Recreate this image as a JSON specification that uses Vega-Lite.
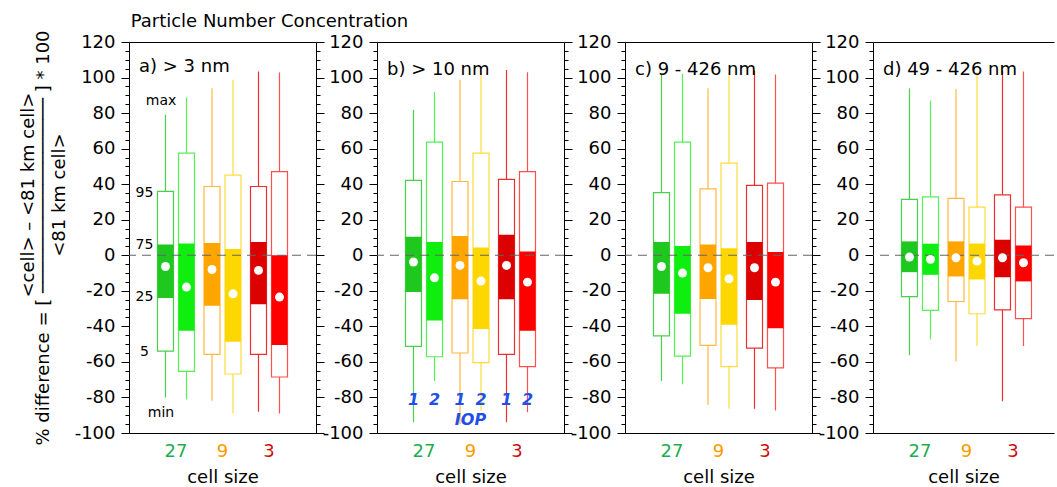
{
  "$schema": "https://vega.github.io/schema/vega-lite/v6.json",
  "padding": {"left": 18, "top": 13, "right": 0, "bottom": 0},
  "bounds": "flush",
  "spacing": 61,
  "title": {"text": "Particle Number Concentration", "anchor": "start", "frame": "bounds", "dx": 112, "offset": -2, "fontSize": 18, "fontWeight": "normal", "font": "DejaVu Sans", "color": "#000"},
  "config": {
    "font": "DejaVu Sans",
    "view": {"stroke": "#000", "strokeWidth": 1},
    "axis": {"labelFont": "DejaVu Sans", "titleFont": "DejaVu Sans", "labelFontSize": 18, "titleFontSize": 18, "titleFontWeight": "normal", "domainColor": "#000", "tickColor": "#000", "labelColor": "#000", "titleColor": "#000", "grid": false, "tickWidth": 1, "domainWidth": 1},
    "title": {"font": "DejaVu Sans", "fontSize": 18, "fontWeight": "normal", "color": "#000"},
    "text": {"font": "DejaVu Sans"}
  },
  "datasets": {
    "a": [
      {"cell": "27", "iop": "1", "s": "27-1", "min": -80, "p5": -53.9, "p25": -24, "p75": 6, "p95": 35.9, "max": 79, "mean": -6.3},
      {"cell": "27", "iop": "2", "s": "27-2", "min": -81, "p5": -65.3, "p25": -42.5, "p75": 6.6, "p95": 57.5, "max": 88.8, "mean": -17.9},
      {"cell": "9", "iop": "1", "s": "9-1", "min": -81.8, "p5": -55.8, "p25": -28.4, "p75": 6.9, "p95": 38.7, "max": 94, "mean": -8},
      {"cell": "9", "iop": "2", "s": "9-2", "min": -89, "p5": -66.8, "p25": -48.6, "p75": 3.5, "p95": 45.1, "max": 98.7, "mean": -21.7},
      {"cell": "3", "iop": "1", "s": "3-1", "min": -88, "p5": -55.8, "p25": -27.5, "p75": 7.4, "p95": 38.7, "max": 103.4, "mean": -8.5},
      {"cell": "3", "iop": "2", "s": "3-2", "min": -89, "p5": -68.5, "p25": -50.5, "p75": 0, "p95": 47.1, "max": 102.8, "mean": -23.5}
    ],
    "b": [
      {"cell": "27", "iop": "1", "s": "27-1", "min": -94, "p5": -51.3, "p25": -20.7, "p75": 10.4, "p95": 42.1, "max": 81.8, "mean": -3.8},
      {"cell": "27", "iop": "2", "s": "27-2", "min": -70.8, "p5": -57.1, "p25": -36.7, "p75": 7.4, "p95": 63.7, "max": 91.8, "mean": -12.7},
      {"cell": "9", "iop": "1", "s": "9-1", "min": -95, "p5": -55, "p25": -24.8, "p75": 10.8, "p95": 41.5, "max": 98.7, "mean": -5.7},
      {"cell": "9", "iop": "2", "s": "9-2", "min": -87.3, "p5": -60.4, "p25": -41.5, "p75": 4.4, "p95": 57.5, "max": 102.6, "mean": -14.5},
      {"cell": "3", "iop": "1", "s": "3-1", "min": -94, "p5": -55.8, "p25": -24.8, "p75": 11.5, "p95": 42.7, "max": 104.3, "mean": -5.7},
      {"cell": "3", "iop": "2", "s": "3-2", "min": -88.3, "p5": -62.7, "p25": -42.5, "p75": 2.1, "p95": 47.1, "max": 103, "mean": -15.1}
    ],
    "c": [
      {"cell": "27", "iop": "1", "s": "27-1", "min": -70.8, "p5": -45.3, "p25": -21.7, "p75": 7.4, "p95": 35.2, "max": 101.5, "mean": -6.3},
      {"cell": "27", "iop": "2", "s": "27-2", "min": -72.5, "p5": -56.7, "p25": -32.9, "p75": 5.2, "p95": 63.7, "max": 102, "mean": -10},
      {"cell": "9", "iop": "1", "s": "9-1", "min": -84.3, "p5": -50.7, "p25": -24.6, "p75": 6.1, "p95": 37.4, "max": 94, "mean": -7},
      {"cell": "9", "iop": "2", "s": "9-2", "min": -86.3, "p5": -62.7, "p25": -39.1, "p75": 4, "p95": 51.9, "max": 103, "mean": -13.2},
      {"cell": "3", "iop": "1", "s": "3-1", "min": -86.3, "p5": -52.2, "p25": -25.2, "p75": 7.4, "p95": 39.3, "max": 104, "mean": -7},
      {"cell": "3", "iop": "2", "s": "3-2", "min": -87.3, "p5": -63.4, "p25": -41, "p75": 1.8, "p95": 40.6, "max": 101.7, "mean": -15.1}
    ],
    "d": [
      {"cell": "27", "iop": "1", "s": "27-1", "min": -56.3, "p5": -23.3, "p25": -9.5, "p75": 7.8, "p95": 31.4, "max": 94, "mean": -1},
      {"cell": "27", "iop": "2", "s": "27-2", "min": -47.3, "p5": -31, "p25": -11, "p75": 6.5, "p95": 32.9, "max": 87, "mean": -2.3},
      {"cell": "9", "iop": "1", "s": "9-1", "min": -59.7, "p5": -26, "p25": -11.9, "p75": 7.8, "p95": 32, "max": 93.6, "mean": -1.4},
      {"cell": "9", "iop": "2", "s": "9-2", "min": -51.1, "p5": -32.9, "p25": -13.6, "p75": 6.6, "p95": 27.1, "max": 103, "mean": -3.3},
      {"cell": "3", "iop": "1", "s": "3-1", "min": -82.2, "p5": -30.7, "p25": -12.3, "p75": 8.7, "p95": 34, "max": 104, "mean": -1.4},
      {"cell": "3", "iop": "2", "s": "3-2", "min": -51.1, "p5": -35.7, "p25": -14.7, "p75": 5.5, "p95": 27.1, "max": 103.4, "mean": -4.2}
    ],
    "annot": [
      {"panel": "a", "kind": "num", "label": "95", "cell": "27", "iop": "1", "v": 35},
      {"panel": "a", "kind": "num", "label": "75", "cell": "27", "iop": "1", "v": 5.5},
      {"panel": "a", "kind": "num", "label": "25", "cell": "27", "iop": "1", "v": -23.5},
      {"panel": "a", "kind": "num", "label": "5", "cell": "27", "iop": "1", "v": -54.5},
      {"panel": "a", "kind": "ext", "label": "max", "cell": "27", "iop": "1", "v": 87},
      {"panel": "a", "kind": "ext", "label": "min", "cell": "27", "iop": "1", "v": -88.5},
      {"panel": "b", "kind": "iop", "label": "1", "cell": "27", "iop": "1", "v": -81.3},
      {"panel": "b", "kind": "iop", "label": "2", "cell": "27", "iop": "2", "v": -81.3},
      {"panel": "b", "kind": "iop", "label": "1", "cell": "9", "iop": "1", "v": -81.3},
      {"panel": "b", "kind": "iop", "label": "2", "cell": "9", "iop": "2", "v": -81.3},
      {"panel": "b", "kind": "iop", "label": "1", "cell": "3", "iop": "1", "v": -81.3},
      {"panel": "b", "kind": "iop", "label": "2", "cell": "3", "iop": "2", "v": -81.3},
      {"panel": "b", "kind": "ioptitle", "label": "IOP", "cell": "9", "iop": "1", "v": -92.5}
    ]
  },
  "hconcat": [
    {
      "width": 187, "height": 391,
      "title": {"text": "a) > 3 nm", "anchor": "start", "frame": "group", "offset": -46, "dx": 10},
      "data": {"name": "a"},
      "resolve": {"axis": {"x": "independent", "y": "independent"}},
      "layer": [
        {"mark": {"type": "rule", "strokeWidth": 1.2},
         "encoding": {
           "x": {"field": "cell", "type": "nominal", "sort": ["27", "9", "3"], "scale": {"type": "band", "paddingInner": 0, "paddingOuter": 0.5108, "align": 0.5}, "axis": null},
           "xOffset": {"field": "iop", "type": "nominal", "sort": ["1", "2"], "scale": {"type": "band", "paddingInner": 0.238, "paddingOuter": 0.226}},
           "y": {"field": "min", "type": "quantitative", "scale": {"domain": [-100, 120], "nice": false, "zero": false},
                 "axis": {"orient": "right", "values": [-100,-95,-90,-85,-80,-75,-70,-65,-60,-55,-50,-45,-40,-35,-30,-25,-20,-15,-10,-5,0,5,10,15,20,25,30,35,40,45,50,55,60,65,70,75,80,85,90,95,100,105,110,115,120], "tickSize": {"condition": {"test": "datum.value % 20 === 0", "value": 8}, "value": 4}, "labels": false, "title": null}},
           "y2": {"field": "max"},
           "stroke": {"field": "s", "type": "nominal", "scale": {"domain": ["27-1", "27-2", "9-1", "9-2", "3-1", "3-2"], "range": ["#4ad04a", "#55f055", "#ffb840", "#ffdb40", "#e83030", "#ff5050"]}, "legend": null}
         }},
        {"mark": {"type": "bar", "fill": "#ffffff", "strokeWidth": 1.2},
         "encoding": {
           "x": {"field": "cell", "type": "nominal", "sort": ["27", "9", "3"], "axis": {"title": "cell size", "ticks": false, "labelAngle": 0, "labelPadding": 9, "titlePadding": 8, "labelColor": {"condition": [{"test": "datum.value === '27'", "value": "#1fae4f"}, {"test": "datum.value === '9'", "value": "#ff9a00"}], "value": "#d01010"}}},
           "xOffset": {"field": "iop", "type": "nominal", "sort": ["1", "2"]},
           "y": {"field": "p5", "type": "quantitative",
                 "axis": {"orient": "left", "values": [-100,-95,-90,-85,-80,-75,-70,-65,-60,-55,-50,-45,-40,-35,-30,-25,-20,-15,-10,-5,0,5,10,15,20,25,30,35,40,45,50,55,60,65,70,75,80,85,90,95,100,105,110,115,120], "tickSize": {"condition": {"test": "datum.value % 20 === 0", "value": 8}, "value": 4}, "labelExpr": "datum.value % 20 === 0 ? '' + datum.value : ''", "labelPadding": 6, "labelOverlap": false, "labelFlush": false,
                          "title": ["\u200b\u00a0\u00a0\u00a0\u00a0\u00a0\u00a0\u00a0\u00a0\u00a0\u00a0\u00a0\u00a0\u00a0\u00a0\u00a0<cell> \u2013 <81 km cell>", "% difference = [ \u2500\u2500\u2500\u2500\u2500\u2500\u2500\u2500\u2500\u2500\u2500\u2500\u2500\u2500\u2500\u2500\u2500\u2500 ] * 100", "\u200b\u00a0\u00a0\u00a0\u00a0\u00a0\u00a0\u00a0\u00a0\u00a0\u00a0\u00a0\u00a0\u00a0\u00a0\u00a0<81 km cell>"], "titlePadding": 6, "titleLineHeight": 15.5}},
           "y2": {"field": "p95"},
           "stroke": {"field": "s", "type": "nominal", "legend": null}
         }},
        {"mark": {"type": "bar"},
         "encoding": {
           "x": {"field": "cell", "type": "nominal", "sort": ["27", "9", "3"], "axis": null},
           "xOffset": {"field": "iop", "type": "nominal", "sort": ["1", "2"]},
           "y": {"field": "p25", "type": "quantitative", "axis": null},
           "y2": {"field": "p75"},
           "fill": {"field": "s", "type": "nominal", "scale": {"domain": ["27-1", "27-2", "9-1", "9-2", "3-1", "3-2"], "range": ["#1ec81e", "#10ee10", "#ffa500", "#ffd700", "#dd0000", "#ff0000"]}, "legend": null}
         }},
        {"data": {"values": [{}]}, "mark": {"type": "rule", "stroke": "#666666", "strokeDash": [9, 6], "strokeWidth": 1.2},
         "encoding": {"y": {"datum": 0, "type": "quantitative", "axis": null}}},
        {"mark": {"type": "circle", "fill": "#ffffff", "opacity": 1, "size": 80},
         "encoding": {
           "x": {"field": "cell", "type": "nominal", "sort": ["27", "9", "3"], "axis": null},
           "xOffset": {"field": "iop", "type": "nominal", "sort": ["1", "2"]},
           "y": {"field": "mean", "type": "quantitative", "axis": null}
         }},
        {"data": {"name": "annot"}, "transform": [{"filter": "datum.kind === 'num'"}],
         "mark": {"type": "text", "fontSize": 14, "align": "center", "baseline": "middle", "dx": -21, "color": "#000"},
         "encoding": {
           "x": {"field": "cell", "type": "nominal", "sort": ["27", "9", "3"], "axis": null},
           "xOffset": {"field": "iop", "type": "nominal", "sort": ["1", "2"]},
           "y": {"field": "v", "type": "quantitative", "axis": null},
           "text": {"field": "label"}
         }},
        {"data": {"name": "annot"}, "transform": [{"filter": "datum.kind === 'ext'"}],
         "mark": {"type": "text", "fontSize": 14, "align": "center", "baseline": "middle", "dx": -4.5, "color": "#000"},
         "encoding": {
           "x": {"field": "cell", "type": "nominal", "sort": ["27", "9", "3"], "axis": null},
           "xOffset": {"field": "iop", "type": "nominal", "sort": ["1", "2"]},
           "y": {"field": "v", "type": "quantitative", "axis": null},
           "text": {"field": "label"}
         }}
      ]
    },
    {
      "width": 187, "height": 391,
      "title": {"text": "b) > 10 nm", "anchor": "start", "frame": "group", "offset": -46, "dx": 10},
      "data": {"name": "b"},
      "resolve": {"axis": {"x": "independent", "y": "independent"}},
      "layer": [
        {"mark": {"type": "rule", "strokeWidth": 1.2},
         "encoding": {
           "x": {"field": "cell", "type": "nominal", "sort": ["27", "9", "3"], "scale": {"type": "band", "paddingInner": 0, "paddingOuter": 0.5108, "align": 0.5}, "axis": null},
           "xOffset": {"field": "iop", "type": "nominal", "sort": ["1", "2"], "scale": {"type": "band", "paddingInner": 0.238, "paddingOuter": 0.226}},
           "y": {"field": "min", "type": "quantitative", "scale": {"domain": [-100, 120], "nice": false, "zero": false},
                 "axis": {"orient": "right", "values": [-100,-95,-90,-85,-80,-75,-70,-65,-60,-55,-50,-45,-40,-35,-30,-25,-20,-15,-10,-5,0,5,10,15,20,25,30,35,40,45,50,55,60,65,70,75,80,85,90,95,100,105,110,115,120], "tickSize": {"condition": {"test": "datum.value % 20 === 0", "value": 8}, "value": 4}, "labels": false, "title": null}},
           "y2": {"field": "max"},
           "stroke": {"field": "s", "type": "nominal", "scale": {"domain": ["27-1", "27-2", "9-1", "9-2", "3-1", "3-2"], "range": ["#4ad04a", "#55f055", "#ffb840", "#ffdb40", "#e83030", "#ff5050"]}, "legend": null}
         }},
        {"mark": {"type": "bar", "fill": "#ffffff", "strokeWidth": 1.2},
         "encoding": {
           "x": {"field": "cell", "type": "nominal", "sort": ["27", "9", "3"], "axis": {"title": "cell size", "ticks": false, "labelAngle": 0, "labelPadding": 9, "titlePadding": 8, "labelColor": {"condition": [{"test": "datum.value === '27'", "value": "#1fae4f"}, {"test": "datum.value === '9'", "value": "#ff9a00"}], "value": "#d01010"}}},
           "xOffset": {"field": "iop", "type": "nominal", "sort": ["1", "2"]},
           "y": {"field": "p5", "type": "quantitative",
                 "axis": {"orient": "left", "values": [-100,-95,-90,-85,-80,-75,-70,-65,-60,-55,-50,-45,-40,-35,-30,-25,-20,-15,-10,-5,0,5,10,15,20,25,30,35,40,45,50,55,60,65,70,75,80,85,90,95,100,105,110,115,120], "tickSize": {"condition": {"test": "datum.value % 20 === 0", "value": 8}, "value": 4}, "labelExpr": "datum.value % 20 === 0 ? '' + datum.value : ''", "labelPadding": 6, "labelOverlap": false, "labelFlush": false, "title": null}},
           "y2": {"field": "p95"},
           "stroke": {"field": "s", "type": "nominal", "legend": null}
         }},
        {"mark": {"type": "bar"},
         "encoding": {
           "x": {"field": "cell", "type": "nominal", "sort": ["27", "9", "3"], "axis": null},
           "xOffset": {"field": "iop", "type": "nominal", "sort": ["1", "2"]},
           "y": {"field": "p25", "type": "quantitative", "axis": null},
           "y2": {"field": "p75"},
           "fill": {"field": "s", "type": "nominal", "scale": {"domain": ["27-1", "27-2", "9-1", "9-2", "3-1", "3-2"], "range": ["#1ec81e", "#10ee10", "#ffa500", "#ffd700", "#dd0000", "#ff0000"]}, "legend": null}
         }},
        {"data": {"values": [{}]}, "mark": {"type": "rule", "stroke": "#666666", "strokeDash": [9, 6], "strokeWidth": 1.2},
         "encoding": {"y": {"datum": 0, "type": "quantitative", "axis": null}}},
        {"mark": {"type": "circle", "fill": "#ffffff", "opacity": 1, "size": 80},
         "encoding": {
           "x": {"field": "cell", "type": "nominal", "sort": ["27", "9", "3"], "axis": null},
           "xOffset": {"field": "iop", "type": "nominal", "sort": ["1", "2"]},
           "y": {"field": "mean", "type": "quantitative", "axis": null}
         }},
        {"data": {"name": "annot"}, "transform": [{"filter": "datum.kind === 'iop'"}],
         "mark": {"type": "text", "fontSize": 16, "fontWeight": "bold", "fontStyle": "italic", "align": "center", "baseline": "middle", "color": "#1f4fe8"},
         "encoding": {
           "x": {"field": "cell", "type": "nominal", "sort": ["27", "9", "3"], "axis": null},
           "xOffset": {"field": "iop", "type": "nominal", "sort": ["1", "2"]},
           "y": {"field": "v", "type": "quantitative", "axis": null},
           "text": {"field": "label"}
         }},
        {"data": {"name": "annot"}, "transform": [{"filter": "datum.kind === 'ioptitle'"}],
         "mark": {"type": "text", "fontSize": 16, "fontWeight": "bold", "fontStyle": "italic", "align": "center", "baseline": "middle", "color": "#1f4fe8"},
         "encoding": {
           "x": {"field": "cell", "type": "nominal", "sort": ["27", "9", "3"], "axis": null},
           "y": {"field": "v", "type": "quantitative", "axis": null},
           "text": {"field": "label"}
         }}
      ]
    },
    {
      "width": 187, "height": 391,
      "title": {"text": "c) 9 - 426 nm", "anchor": "start", "frame": "group", "offset": -46, "dx": 10},
      "data": {"name": "c"},
      "resolve": {"axis": {"x": "independent", "y": "independent"}},
      "layer": [
        {"mark": {"type": "rule", "strokeWidth": 1.2},
         "encoding": {
           "x": {"field": "cell", "type": "nominal", "sort": ["27", "9", "3"], "scale": {"type": "band", "paddingInner": 0, "paddingOuter": 0.5108, "align": 0.5}, "axis": null},
           "xOffset": {"field": "iop", "type": "nominal", "sort": ["1", "2"], "scale": {"type": "band", "paddingInner": 0.238, "paddingOuter": 0.226}},
           "y": {"field": "min", "type": "quantitative", "scale": {"domain": [-100, 120], "nice": false, "zero": false},
                 "axis": {"orient": "right", "values": [-100,-95,-90,-85,-80,-75,-70,-65,-60,-55,-50,-45,-40,-35,-30,-25,-20,-15,-10,-5,0,5,10,15,20,25,30,35,40,45,50,55,60,65,70,75,80,85,90,95,100,105,110,115,120], "tickSize": {"condition": {"test": "datum.value % 20 === 0", "value": 8}, "value": 4}, "labels": false, "title": null}},
           "y2": {"field": "max"},
           "stroke": {"field": "s", "type": "nominal", "scale": {"domain": ["27-1", "27-2", "9-1", "9-2", "3-1", "3-2"], "range": ["#4ad04a", "#55f055", "#ffb840", "#ffdb40", "#e83030", "#ff5050"]}, "legend": null}
         }},
        {"mark": {"type": "bar", "fill": "#ffffff", "strokeWidth": 1.2},
         "encoding": {
           "x": {"field": "cell", "type": "nominal", "sort": ["27", "9", "3"], "axis": {"title": "cell size", "ticks": false, "labelAngle": 0, "labelPadding": 9, "titlePadding": 8, "labelColor": {"condition": [{"test": "datum.value === '27'", "value": "#1fae4f"}, {"test": "datum.value === '9'", "value": "#ff9a00"}], "value": "#d01010"}}},
           "xOffset": {"field": "iop", "type": "nominal", "sort": ["1", "2"]},
           "y": {"field": "p5", "type": "quantitative",
                 "axis": {"orient": "left", "values": [-100,-95,-90,-85,-80,-75,-70,-65,-60,-55,-50,-45,-40,-35,-30,-25,-20,-15,-10,-5,0,5,10,15,20,25,30,35,40,45,50,55,60,65,70,75,80,85,90,95,100,105,110,115,120], "tickSize": {"condition": {"test": "datum.value % 20 === 0", "value": 8}, "value": 4}, "labelExpr": "datum.value % 20 === 0 ? '' + datum.value : ''", "labelPadding": 6, "labelOverlap": false, "labelFlush": false, "title": null}},
           "y2": {"field": "p95"},
           "stroke": {"field": "s", "type": "nominal", "legend": null}
         }},
        {"mark": {"type": "bar"},
         "encoding": {
           "x": {"field": "cell", "type": "nominal", "sort": ["27", "9", "3"], "axis": null},
           "xOffset": {"field": "iop", "type": "nominal", "sort": ["1", "2"]},
           "y": {"field": "p25", "type": "quantitative", "axis": null},
           "y2": {"field": "p75"},
           "fill": {"field": "s", "type": "nominal", "scale": {"domain": ["27-1", "27-2", "9-1", "9-2", "3-1", "3-2"], "range": ["#1ec81e", "#10ee10", "#ffa500", "#ffd700", "#dd0000", "#ff0000"]}, "legend": null}
         }},
        {"data": {"values": [{}]}, "mark": {"type": "rule", "stroke": "#666666", "strokeDash": [9, 6], "strokeWidth": 1.2},
         "encoding": {"y": {"datum": 0, "type": "quantitative", "axis": null}}},
        {"mark": {"type": "circle", "fill": "#ffffff", "opacity": 1, "size": 80},
         "encoding": {
           "x": {"field": "cell", "type": "nominal", "sort": ["27", "9", "3"], "axis": null},
           "xOffset": {"field": "iop", "type": "nominal", "sort": ["1", "2"]},
           "y": {"field": "mean", "type": "quantitative", "axis": null}
         }}
      ]
    },
    {
      "width": 181, "height": 391,
      "view": {"stroke": null},
      "title": {"text": "d) 49 - 426 nm", "anchor": "start", "frame": "group", "offset": -46, "dx": 10},
      "data": {"name": "d"},
      "resolve": {"axis": {"x": "independent", "y": "independent"}},
      "layer": [
        {"mark": {"type": "rule", "strokeWidth": 1.2},
         "encoding": {
           "x": {"field": "cell", "type": "nominal", "sort": ["27", "9", "3"], "scale": {"type": "band", "paddingInner": 0, "paddingOuter": 0.446, "align": 0.572}, "axis": {"orient": "top", "labels": false, "ticks": false, "title": null, "domain": true}},
           "xOffset": {"field": "iop", "type": "nominal", "sort": ["1", "2"], "scale": {"type": "band", "paddingInner": 0.238, "paddingOuter": 0.226}},
           "y": {"field": "min", "type": "quantitative", "scale": {"domain": [-100, 120], "nice": false, "zero": false}, "axis": null},
           "y2": {"field": "max"},
           "stroke": {"field": "s", "type": "nominal", "scale": {"domain": ["27-1", "27-2", "9-1", "9-2", "3-1", "3-2"], "range": ["#4ad04a", "#55f055", "#ffb840", "#ffdb40", "#e83030", "#ff5050"]}, "legend": null}
         }},
        {"mark": {"type": "bar", "fill": "#ffffff", "strokeWidth": 1.2},
         "encoding": {
           "x": {"field": "cell", "type": "nominal", "sort": ["27", "9", "3"], "axis": {"title": "cell size", "ticks": false, "labelAngle": 0, "labelPadding": 9, "titlePadding": 8, "labelColor": {"condition": [{"test": "datum.value === '27'", "value": "#1fae4f"}, {"test": "datum.value === '9'", "value": "#ff9a00"}], "value": "#d01010"}}},
           "xOffset": {"field": "iop", "type": "nominal", "sort": ["1", "2"]},
           "y": {"field": "p5", "type": "quantitative",
                 "axis": {"orient": "left", "values": [-100,-95,-90,-85,-80,-75,-70,-65,-60,-55,-50,-45,-40,-35,-30,-25,-20,-15,-10,-5,0,5,10,15,20,25,30,35,40,45,50,55,60,65,70,75,80,85,90,95,100,105,110,115,120], "tickSize": {"condition": {"test": "datum.value % 20 === 0", "value": 8}, "value": 4}, "labelExpr": "datum.value % 20 === 0 ? '' + datum.value : ''", "labelPadding": 6, "labelOverlap": false, "labelFlush": false, "title": null}},
           "y2": {"field": "p95"},
           "stroke": {"field": "s", "type": "nominal", "legend": null}
         }},
        {"mark": {"type": "bar"},
         "encoding": {
           "x": {"field": "cell", "type": "nominal", "sort": ["27", "9", "3"], "axis": null},
           "xOffset": {"field": "iop", "type": "nominal", "sort": ["1", "2"]},
           "y": {"field": "p25", "type": "quantitative", "axis": null},
           "y2": {"field": "p75"},
           "fill": {"field": "s", "type": "nominal", "scale": {"domain": ["27-1", "27-2", "9-1", "9-2", "3-1", "3-2"], "range": ["#1ec81e", "#10ee10", "#ffa500", "#ffd700", "#dd0000", "#ff0000"]}, "legend": null}
         }},
        {"data": {"values": [{}]}, "mark": {"type": "rule", "stroke": "#666666", "strokeDash": [9, 6], "strokeWidth": 1.2},
         "encoding": {"y": {"datum": 0, "type": "quantitative", "axis": null}}},
        {"mark": {"type": "circle", "fill": "#ffffff", "opacity": 1, "size": 80},
         "encoding": {
           "x": {"field": "cell", "type": "nominal", "sort": ["27", "9", "3"], "axis": null},
           "xOffset": {"field": "iop", "type": "nominal", "sort": ["1", "2"]},
           "y": {"field": "mean", "type": "quantitative", "axis": null}
         }}
      ]
    }
  ]
}
